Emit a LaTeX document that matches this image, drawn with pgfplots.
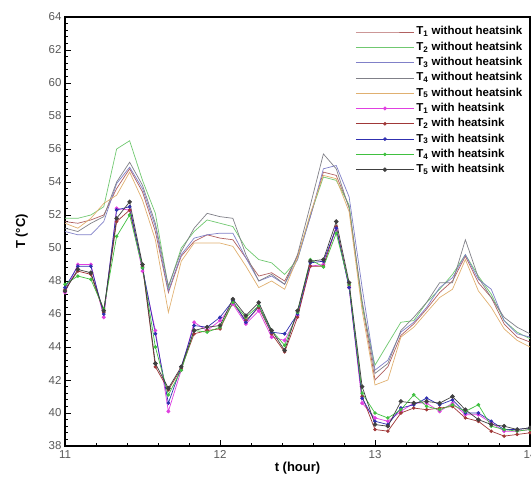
\documentclass[border=0pt]{standalone}
\usepackage{pgfplots}
\usepackage{pgfplotstable}
\pgfplotsset{compat=1.18}
\usepackage{fontspec}
\setmainfont{Liberation Sans}
\definecolor{aR}{HTML}{B06060}
\definecolor{aG}{HTML}{70C870}
\definecolor{aB}{HTML}{8080C8}
\definecolor{aK}{HTML}{808088}
\definecolor{aO}{HTML}{E0B070}
\definecolor{bM}{HTML}{E040E0}
\definecolor{bR}{HTML}{A03838}
\definecolor{bB}{HTML}{3030B0}
\definecolor{bG}{HTML}{40C040}
\definecolor{bK}{HTML}{404040}
\pgfplotstableread{
x a1 a2 a3 a4 a5 b1 b2 b3 b4 b5
11.000 51.6 51.8 51.0 51.2 51.5 47.3 47.5 47.6 47.8 47.4
11.083 51.5 51.8 50.8 51.0 51.2 49.0 48.6 48.9 48.3 48.7
11.167 51.7 52.0 50.8 51.5 51.8 49.0 48.4 48.9 48.1 48.5
11.250 52.0 52.5 51.6 51.9 52.7 45.8 46.1 46.0 46.3 46.2
11.333 53.6 56.0 53.9 54.0 53.2 52.4 51.6 52.3 50.7 51.8
11.417 54.8 56.5 54.9 55.2 54.6 52.3 52.3 52.5 52.0 52.8
11.500 53.4 54.1 53.6 53.8 52.9 48.6 48.9 48.8 48.8 49.0
11.583 51.0 52.1 51.3 51.5 50.5 45.0 42.8 44.8 44.0 43.0
11.667 47.3 47.6 47.4 47.7 46.1 40.1 41.4 40.6 41.1 41.5
11.750 49.5 50.0 49.6 49.8 49.2 42.6 42.7 42.8 42.6 42.8
11.833 50.4 51.0 50.6 51.2 50.3 45.5 44.8 45.3 45.0 45.0
11.917 50.8 51.7 50.8 52.1 50.3 45.0 45.0 45.2 44.9 45.2
12.000 50.6 51.5 50.9 51.9 50.3 45.6 45.1 45.8 45.2 45.3
12.083 50.5 51.3 50.9 51.8 50.1 46.6 46.7 46.8 46.7 46.9
12.167 49.4 50.0 49.4 49.6 48.9 45.4 45.6 45.5 45.8 45.9
12.250 48.3 49.3 48.0 48.0 47.6 46.2 46.4 46.5 46.5 46.7
12.333 48.5 49.1 48.3 48.4 48.0 44.6 44.8 44.9 45.0 45.0
12.417 48.0 48.4 47.8 47.8 47.5 44.4 43.7 44.8 44.1 43.8
12.500 49.5 49.3 49.3 49.6 49.4 45.9 45.8 46.0 46.1 46.2
12.583 51.9 52.0 51.9 52.6 52.1 48.9 48.9 49.1 49.3 49.2
12.667 54.6 54.3 54.8 55.7 54.4 49.0 48.9 49.2 48.85 49.3
12.750 54.4 54.1 55.0 54.8 54.2 51.2 51.3 51.2 50.9 51.6
12.833 52.5 52.6 53.1 52.4 52.2 47.6 47.7 47.6 47.8 47.9
12.917 46.6 46.5 47.6 46.8 46.2 40.6 41.0 40.9 41.2 41.6
13.000 42.0 42.9 42.6 42.4 41.7 39.7 39.0 39.5 40.0 39.3
13.083 42.8 44.2 43.2 43.0 42.0 39.5 38.9 39.3 39.7 39.2
13.167 44.7 45.5 44.9 45.0 44.6 40.1 40.0 40.3 40.2 40.7
13.250 45.4 45.6 45.5 45.8 45.2 40.6 40.3 40.5 41.1 40.6
13.333 46.3 46.7 46.4 46.7 46.1 40.6 40.2 40.9 40.4 40.7
13.417 47.3 47.5 47.6 47.9 47.0 40.1 40.3 40.5 40.2 40.6
13.500 48.0 48.4 48.2 47.9 47.5 40.6 40.4 40.8 40.5 41.0
13.583 49.5 49.6 49.6 50.5 49.3 39.9 39.7 40.0 40.1 40.2
13.667 47.9 48.3 48.1 48.2 47.4 39.9 39.5 40.0 40.5 39.6
13.750 47.0 47.2 47.5 47.0 46.4 39.4 38.9 39.5 39.2 39.3
13.833 45.4 45.6 45.6 45.8 45.1 38.9 38.6 39.0 39.0 39.2
13.917 44.6 44.9 44.8 45.2 44.4 38.9 38.7 39.0 38.9 39.0
14.000 44.3 44.5 44.6 44.8 44.0 39.0 38.8 39.1 39.0 39.1
}\datatable
\begin{document}
\begin{tikzpicture}
\begin{axis}[
  name=ax,
  scale only axis,
  width=465pt, height=429pt,
  xmin=11, xmax=14, ymin=38, ymax=64,
  xtick={11,12,13,14}, minor x tick num=4,
  ytick={38,40,...,64}, minor y tick num=4,
  tick pos=left, tick align=inside,
  major tick length=6pt, minor tick length=3pt,
  every tick/.style={black, line width=0.8pt},
  axis line style={line width=1.3pt, black},
  /pgf/number format/assume math mode=true,
  tick label style={font=\fontsize{11.5}{13}\selectfont, text=black!65},
  xticklabel style={yshift=-1pt},
  xlabel={\textbf{t (hour)}},
  ylabel={\textbf{T (°C)}},
  label style={font=\fontsize{13}{15}\selectfont},
  xlabel style={yshift=3pt},
  ylabel style={yshift=14pt},
  legend cell align=left,
  legend style={at={(rel axis cs:0.995,0.988)}, anchor=north east, draw=none, fill=none,
    font=\bfseries\fontsize{11.5}{13}\selectfont,
    nodes={inner sep=2.15pt, text height=8.5pt, text depth=2.5pt}},
  legend image code/.code={\draw[mark repeat=2, mark phase=2, #1] plot coordinates {(0pt,0pt) (29pt,0pt) (58pt,0pt)};},
  every axis plot/.append style={line width=0.7pt},
]
\addplot[aR, no markers] table[x=x, y=a1] {\datatable};
\addlegendentry{T\textsubscript{1} without heatsink}
\addplot[aG, no markers] table[x=x, y=a2] {\datatable};
\addlegendentry{T\textsubscript{2} without heatsink}
\addplot[aB, no markers] table[x=x, y=a3] {\datatable};
\addlegendentry{T\textsubscript{3} without heatsink}
\addplot[aK, no markers] table[x=x, y=a4] {\datatable};
\addlegendentry{T\textsubscript{4} without heatsink}
\addplot[aO, no markers] table[x=x, y=a5] {\datatable};
\addlegendentry{T\textsubscript{5} without heatsink}
\addplot[bM, mark=*, mark size=1.6pt] table[x=x, y=b1] {\datatable};
\addlegendentry{T\textsubscript{1} with heatsink}
\addplot[bR, mark=*, mark size=1.4pt] table[x=x, y=b2] {\datatable};
\addlegendentry{T\textsubscript{2} with heatsink}
\addplot[bB, mark=*, mark size=1.5pt] table[x=x, y=b3] {\datatable};
\addlegendentry{T\textsubscript{3} with heatsink}
\addplot[bG, mark=*, mark size=1.4pt] table[x=x, y=b4] {\datatable};
\addlegendentry{T\textsubscript{4} with heatsink}
\addplot[bK, mark=*, mark size=1.9pt] table[x=x, y=b5] {\datatable};
\addlegendentry{T\textsubscript{5} with heatsink}
\end{axis}
\pgfresetboundingbox
\path ([xshift=-65pt,yshift=-39pt]ax.south west) rectangle ([xshift=1pt,yshift=17pt]ax.north east);
\end{tikzpicture}
\end{document}
